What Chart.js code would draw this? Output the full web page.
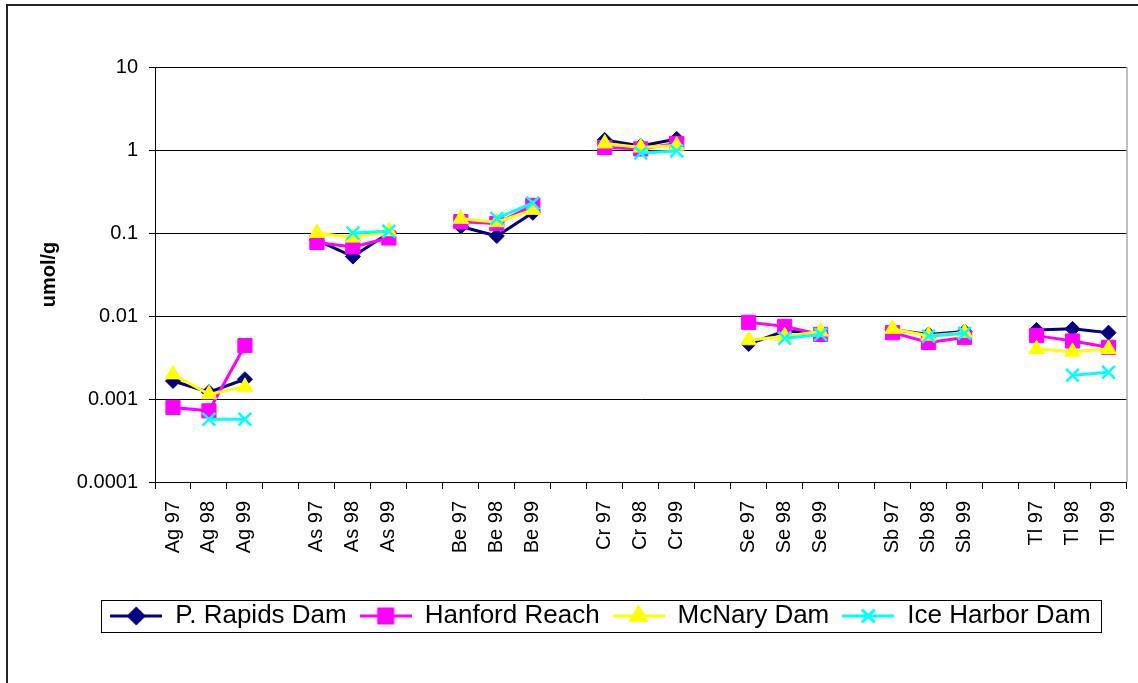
<!DOCTYPE html>
<html>
<head>
<meta charset="utf-8">
<script src="https://cdn.jsdelivr.net/npm/chart.js@4/dist/chart.umd.min.js"></script>
<style>
  html, body { margin: 0; padding: 0; background: #fff; }
  #wrap { width: 1138px; height: 683px; }
</style>
</head>
<body>
<div id="wrap"><canvas id="myChart" width="1138" height="683"></canvas></div>
<script>
// categories (blank entries are the gaps between elements)
const categories = ['Ag 97', 'Ag 98', 'Ag 99', '', 'As 97', 'As 98', 'As 99', '',
  'Be 97', 'Be 98', 'Be 99', '', 'Cr 97', 'Cr 98', 'Cr 99', '',
  'Se 97', 'Se 98', 'Se 99', '', 'Sb 97', 'Sb 98', 'Sb 99', '',
  'Tl 97', 'Tl 98', 'Tl 99'];

const pRapids = [0.00165, 0.00121, 0.00173, null, 0.082, 0.052, 0.1, null,
  0.12, 0.092, 0.175, null, 1.32, 1.12, 1.36, null,
  0.0046, 0.0066, 0.0062, null, 0.0069, 0.006, 0.0065, null,
  0.0068, 0.007, 0.0063];
const hanford = [0.00079, 0.00072, 0.0044, null, 0.077, 0.068, 0.087, null,
  0.137, 0.13, 0.215, null, 1.07, 1.03, 1.2, null,
  0.0084, 0.0075, 0.006, null, 0.0063, 0.0048, 0.0055, null,
  0.0058, 0.005, 0.0042];
const mcnary = [0.00198, 0.00114, 0.0014, null, 0.1, 0.088, 0.105, null,
  0.148, 0.135, 0.19, null, 1.2, 1.07, 1.13, null,
  0.0051, 0.0057, 0.0065, null, 0.007, 0.0058, 0.0063, null,
  0.004, 0.0037, 0.004];
const iceHarbor = [null, 0.00057, 0.00057, null, null, 0.1, 0.105, null,
  null, 0.15, 0.23, null, null, 0.92, 0.97, null,
  null, 0.0054, 0.006, null, null, 0.0057, 0.0062, null,
  null, 0.00193, 0.0021];

const yTickValues = [0.0001, 0.001, 0.01, 0.1, 1, 10];
const yTickLabels = ['0.0001', '0.001', '0.01', '0.1', '1', '10'];

Chart.defaults.font.family = "'Liberation Sans', Arial, sans-serif";
Chart.defaults.color = '#000';

function series(label, data, color, style, radius, order) {
  return {
    label: label,
    data: data,
    borderColor: color,
    backgroundColor: color,
    borderWidth: 3,
    pointStyle: style,
    pointRadius: radius,
    pointHoverRadius: radius,
    pointBorderWidth: style === 'crossRot' ? 2.5 : 1,
    pointBackgroundColor: color,
    pointBorderColor: color,
    tension: 0,
    spanGaps: false,
    order: order
  };
}

const datasets = [
  series('P. Rapids Dam', pRapids, '#000080', 'rectRot', 7.5, 3),
  series('Hanford Reach', hanford, '#FF00FF', 'rect', 10, 2),
  series('McNary Dam', mcnary, '#FFFF00', 'triangle', 9, 1),
  series('Ice Harbor Dam', iceHarbor, '#00FFFF', 'crossRot', 9, 0)
];

// legend swatch: short line with the marker on it
function legendSwatch(ds) {
  const c = document.createElement('canvas');
  c.width = 52; c.height = 22;
  const g = c.getContext('2d');
  g.strokeStyle = ds.borderColor;
  g.fillStyle = ds.borderColor;
  g.lineWidth = 3;
  g.beginPath(); g.moveTo(0, 11); g.lineTo(52, 11); g.stroke();
  Chart.helpers.drawPoint(g, {
    pointStyle: ds.pointStyle, radius: ds.pointRadius, rotation: 0,
    borderWidth: ds.pointBorderWidth
  }, 26, 11);
  return c;
}

const frame = {
  id: 'frame',
  afterDraw(chart) {
    const ctx = chart.ctx, a = chart.chartArea;
    ctx.save();
    ctx.strokeStyle = '#808080';
    ctx.lineWidth = 1;
    ctx.beginPath(); ctx.moveTo(a.right + 0.5, a.top); ctx.lineTo(a.right + 0.5, a.bottom); ctx.stroke();
    // legend box
    const boxes = chart.legend.legendHitBoxes;
    if (boxes && boxes.length) {
      const l = Math.min(...boxes.map(b => b.left)) - 9;
      const r = Math.max(...boxes.map(b => b.left + b.width)) + 10;
      const t = Math.min(...boxes.map(b => b.top)) - 3;
      const btm = Math.max(...boxes.map(b => b.top + b.height)) + 3;
      ctx.strokeStyle = '#000';
      ctx.lineWidth = 1;
      ctx.strokeRect(Math.round(l) + 0.5, Math.round(t) + 0.5, Math.round(r - l), Math.round(btm - t));
    }
    ctx.strokeStyle = '#222';
    ctx.lineWidth = 2;
    ctx.strokeRect(7, 5, 1150, 700);
    ctx.restore();
  }
};

new Chart(document.getElementById('myChart'), {
  type: 'line',
  data: { labels: categories, datasets: datasets },
  options: {
    responsive: false,
    animation: false,
    layout: { padding: { left: 74, top: 67, right: 11, bottom: 44 } },
    plugins: {
      tooltip: { enabled: false },
      legend: {
        position: 'bottom',
        labels: {
          usePointStyle: true,
          pointStyleWidth: 52,
          boxHeight: 22,
          padding: 13,
          font: { size: 26 },
          color: '#000',
          generateLabels: (chart) => chart.data.datasets.map((ds, i) => ({
            text: ds.label,
            pointStyle: legendSwatch(ds),
            fillStyle: ds.borderColor,
            strokeStyle: ds.borderColor,
            lineWidth: 0,
            datasetIndex: i,
            hidden: false
          }))
        }
      }
    },
    scales: {
      x: {
        offset: true,
        border: { color: '#000', width: 1 },
        grid: { offset: true, drawOnChartArea: false, color: '#000', tickColor: '#000', tickLength: 7 },
        ticks: { autoSkip: false, minRotation: 90, maxRotation: 90, font: { size: 20 }, padding: 12, color: '#000' },
        afterFit: (s) => { s.height = 108; s.paddingLeft = 0; s.paddingRight = 0; }
      },
      y: {
        type: 'logarithmic',
        min: 0.0001,
        max: 10,
        border: { color: '#000', width: 1 },
        grid: { color: '#000', tickColor: '#000', tickLength: 6 },
        ticks: {
          font: { size: 20 }, padding: 11, color: '#000',
          callback: (v) => {
            const i = yTickValues.findIndex(t => Math.abs(t - v) < t * 1e-6);
            return i >= 0 ? yTickLabels[i] : '';
          }
        },
        afterBuildTicks: (s) => { s.ticks = yTickValues.map(v => ({ value: v })); },
        title: { display: true, text: 'umol/g', font: { size: 20, weight: 'bold' }, padding: { top: -37, bottom: 0 } },
        afterFit: (s) => { s.width = 81; }
      }
    }
  },
  plugins: [frame]
});
</script>
</body>
</html>
